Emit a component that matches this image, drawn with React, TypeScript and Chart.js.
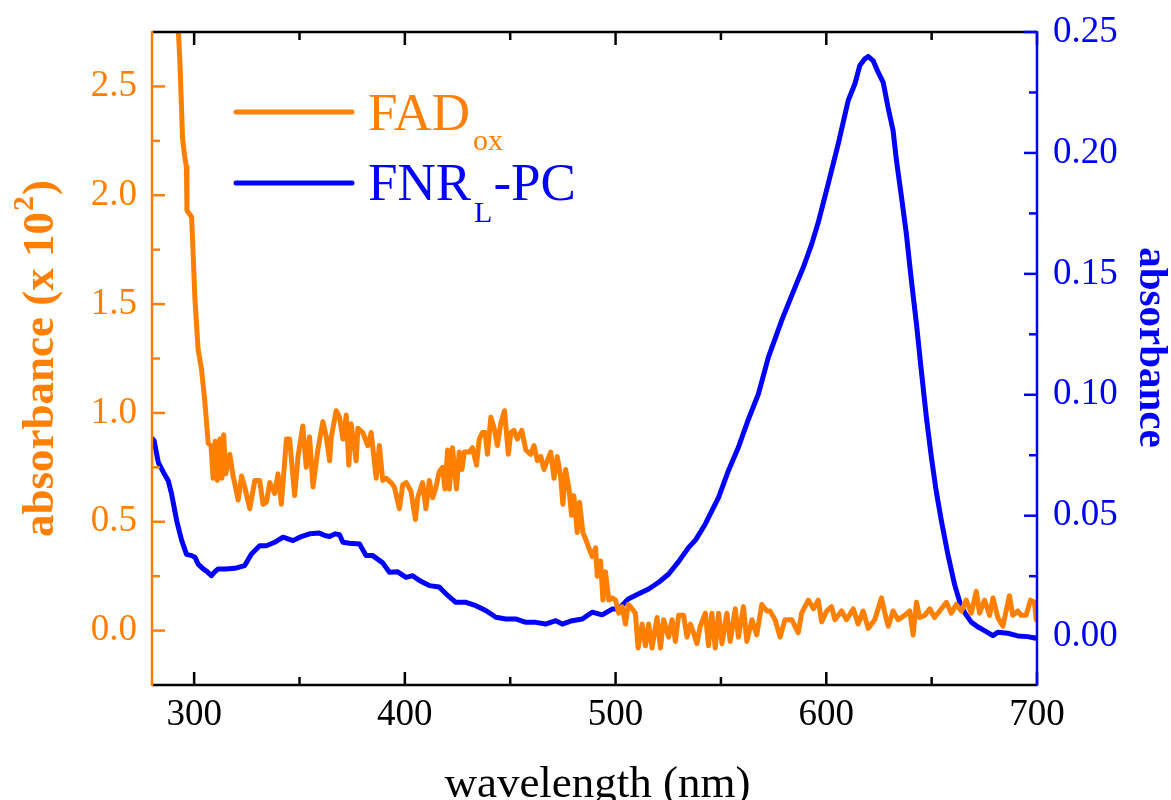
import React, { useEffect, useRef } from 'react';
import { Chart, registerables } from 'chart.js';

Chart.register(...registerables);

const FONT = "'Liberation Serif', 'Times New Roman', Times, serif";
const ORANGE = '#FF8000';
const BLUE = '#0000FF';

// FAD_ox spectrum (left axis, absorbance x 10^2)
const fadWavelength = [
  291, 292.5, 293.3, 294.5, 295.5, 296.3, 296.6, 298.8, 300.4, 301.9, 303.5, 305.0, 306.7, 308.0, 309.0, 310.0,
  311.0, 312.2, 313.2, 314.0, 315.0, 316.9, 318.5, 320.9, 322.5, 324.0, 326.4, 328.8, 331.1, 332.7, 334.3, 335.9,
  338.2, 339.8, 341.4, 343.8, 345.3, 347.7, 349.3, 351.6, 353.2, 354.8, 356.4, 358.7, 361.1, 362.7, 364.3, 365.1,
  367.4, 369.0, 370.6, 372.2, 373.4, 374.5, 376.9, 377.7, 380.0, 382.4, 384.0, 386.4, 387.9, 389.5, 391.1, 393.4,
  395.0, 397.4, 399.0, 400.6, 402.9, 405.0, 406.1, 408.4, 410.0, 411.6, 413.2, 414.8, 416.3, 417.9, 419.0, 420.3,
  421.1, 422.6, 424.5, 425.8, 427.1, 428.2, 430.5, 432.1, 434.0, 435.3, 436.8, 438.1, 439.2, 440.8, 442.4, 443.9,
  445.5, 447.3, 449.1, 450.3, 451.8, 453.4, 455.5, 457.4, 459.7, 461.3, 462.9, 464.5, 466.0, 467.6, 469.2, 470.8,
  472.3, 473.9, 475.0, 476.3, 477.9, 479.1, 480.2, 481.8, 482.9, 484.5, 485.8, 487.3, 488.9, 490.5, 491.3, 492.9,
  494.0, 495.2, 496.8, 498.4, 500.0, 501.5, 503.1, 504.7, 506.0, 507.1, 509.4, 510.7, 512.6, 514.2, 515.7, 517.3,
  519.7, 521.3, 522.8, 525.2, 526.8, 528.4, 529.9, 532.3, 533.9, 535.5, 537.0, 538.6, 540.2, 542.6, 544.1, 545.7,
  547.3, 548.9, 550.5, 552.8, 554.4, 556.8, 558.3, 560.7, 562.3, 564.7, 567.0, 569.4, 571.8, 573.3, 575.7, 578.1,
  580.4, 583.6, 586.7, 588.3, 591.5, 593.9, 596.2, 597.8, 600.2, 602.5, 604.1, 607.3, 609.6, 612.8, 615.1, 617.5,
  619.9, 623.0, 626.2, 627.8, 629.4, 631.7, 634.1, 637.2, 639.6, 641.2, 642.8, 644.3, 646.7, 649.1, 651.4, 653.8,
  657.0, 659.3, 661.7, 664.1, 666.4, 668.8, 671.2, 672.7, 675.1, 677.5, 679.1, 681.4, 683.8, 686.9, 688.5, 690.9,
  692.5, 694.8, 696.9, 698.8, 699.6, 700.0,
];
const fadAbsorbance = [
  3.0, 2.76, 2.6, 2.26, 2.18, 2.13, 1.93, 1.9, 1.52, 1.29, 1.2, 1.06, 0.86, 0.85, 0.7, 0.87,
  0.69, 0.88, 0.7, 0.9, 0.72, 0.81, 0.71, 0.6, 0.71, 0.66, 0.56, 0.69, 0.69, 0.58, 0.59, 0.68,
  0.63, 0.72, 0.58, 0.88, 0.88, 0.62, 0.8, 0.94, 0.75, 0.89, 0.66, 0.83, 0.96, 0.89, 0.78, 0.89,
  1.01, 0.98, 0.88, 0.99, 0.76, 0.95, 0.78, 0.93, 0.91, 0.85, 0.91, 0.7, 0.85, 0.69, 0.7, 0.68,
  0.66, 0.56, 0.67, 0.68, 0.64, 0.51, 0.61, 0.68, 0.56, 0.69, 0.61, 0.66, 0.73, 0.75, 0.65, 0.83,
  0.65, 0.84, 0.65, 0.82, 0.74, 0.82, 0.82, 0.84, 0.76, 0.88, 0.91, 0.91, 0.81, 0.98, 0.93, 0.85,
  0.95, 1.01, 0.81, 0.91, 0.92, 0.88, 0.92, 0.83, 0.81, 0.85, 0.78, 0.8, 0.74, 0.78, 0.82, 0.7,
  0.8, 0.71, 0.58, 0.74, 0.65, 0.53, 0.62, 0.45, 0.59, 0.45, 0.42, 0.38, 0.34, 0.38, 0.25, 0.32,
  0.14, 0.27, 0.14, 0.15, 0.14, 0.08, 0.11, 0.03, 0.12, 0.11, 0.08, -0.08, 0.03, -0.07, 0.03, -0.08,
  0.06, -0.08, 0.05, -0.03, 0.05, -0.05, 0.07, 0.07, -0.03, 0.03, -0.01, -0.06, 0.02, 0.08, -0.07, 0.08,
  -0.08, 0.08, -0.06, 0.08, -0.05, 0.1, -0.03, 0.11, -0.05, 0.05, -0.02, 0.12, 0.09, 0.09, 0.05, -0.03,
  0.05, 0.05, -0.01, 0.08, 0.14, 0.1, 0.14, 0.04, 0.09, 0.11, 0.05, 0.09, 0.05, 0.1, 0.03, 0.09,
  0.01, 0.05, 0.15, 0.08, 0.02, 0.09, 0.05, 0.07, 0.09, -0.02, 0.13, 0.06, 0.07, 0.1, 0.06, 0.09,
  0.13, 0.08, 0.12, 0.09, 0.14, 0.08, 0.18, 0.08, 0.14, 0.07, 0.15, 0.06, 0.02, 0.16, 0.07, 0.09,
  0.07, 0.07, 0.14, 0.13, 0.05, 0.06,
];

// FNR_L-PC spectrum (right axis, absorbance)
const fnrWavelength = [
  280, 281, 283, 285.4, 287.7, 289.3, 291.7, 294, 296.4, 298.8, 300.4, 301.9, 304.3, 306, 308.2, 310,
  311.4, 315.3, 320.1, 324, 327.2, 331.1, 334.3, 338.2, 342.2, 346.9, 350.1, 354.8, 359.5, 362, 364.3, 367,
  369, 370.6, 373.7, 378.5, 381.6, 384.8, 389.5, 392.7, 396.6, 400.6, 403.7, 406.9, 411.6, 416.3, 419.5, 424.2,
  429, 433.7, 438.4, 443.2, 447.9, 452.6, 457.4, 462.1, 466.8, 471.6, 474.7, 479.4, 484.2, 488.9, 493.6, 498.4,
  501.5, 506, 511, 515.7, 520.5, 525.2, 529.9, 534.7, 538, 542.6, 548.9, 553.6, 558.3, 563.1, 567.8, 572.5,
  578.8, 585.2, 589.1, 593.1, 596.2, 600.9, 605.7, 610.4, 613.6, 615.9, 618.3, 619.9, 622.2, 624.6, 627, 629.3,
  631.7, 633.3, 635.7, 638, 640.4, 642.8, 645.1, 647.5, 649.9, 652.2, 654.6, 657.7, 660.9, 663.8, 666, 668.8,
  672, 675.1, 679.1, 681.4, 686.1, 690.9, 695.6, 700,
];
const fnrAbsorbance = [
  0.082, 0.081, 0.072, 0.068, 0.0645, 0.059, 0.048, 0.04, 0.034, 0.0335, 0.0328, 0.03, 0.028, 0.027, 0.0252, 0.027,
  0.028, 0.028, 0.0284, 0.0294, 0.0342, 0.0376, 0.0376, 0.039, 0.0411, 0.0397, 0.0411, 0.0425, 0.0428, 0.0418, 0.0414, 0.0425,
  0.0421, 0.039, 0.0386, 0.0383, 0.0335, 0.0335, 0.0305, 0.0266, 0.0268, 0.0245, 0.0252, 0.0232, 0.0211, 0.0205, 0.0177, 0.0142,
  0.0142, 0.0128, 0.0108, 0.008, 0.0073, 0.0073, 0.0059, 0.0059, 0.0052, 0.0066, 0.0052, 0.0066, 0.0073, 0.0101, 0.009, 0.0114,
  0.0114, 0.0156, 0.0177, 0.0197, 0.0225, 0.0259, 0.031, 0.0369, 0.04, 0.0466, 0.0576, 0.0687, 0.0783, 0.09, 0.1004, 0.1155,
  0.1307, 0.1445, 0.1527, 0.1624, 0.1713, 0.1872, 0.2038, 0.2217, 0.2286, 0.2361, 0.2389, 0.2399, 0.2382, 0.2334, 0.2292, 0.2189,
  0.2093, 0.1969, 0.1817, 0.1665, 0.1472, 0.1293, 0.11, 0.0907, 0.074, 0.06, 0.048, 0.034, 0.0215, 0.013, 0.0095, 0.006,
  0.004, 0.0025, 0.0004, 0.0018, 0.0014, 0.0003, 0.0, -0.0008,
];

const xTicks = [300, 400, 500, 600, 700];
const leftTicks = [0, 0.5, 1.0, 1.5, 2.0, 2.5];
const rightTicks = [0, 0.05, 0.1, 0.15, 0.2, 0.25];

const legendMain = ['FAD', 'FNR'];
const legendSub = ['ox', 'L'];
const legendTail = ['', '-PC'];

const xTitle = 'wavelength (nm)';
const leftTitleMain = 'absorbance (x 10';
const leftTitleSup = '2';
const leftTitleEnd = ')';
const rightTitle = 'absorbance';

function minorsOf(majors: number[], min: number, max: number) {
  const out: number[] = [];
  const step = majors[1] - majors[0];
  const cands = [majors[0] - step / 2];
  for (let i = 0; i < majors.length - 1; i++) cands.push((majors[i] + majors[i + 1]) / 2);
  cands.push(majors[majors.length - 1] + step / 2);
  for (const c of cands) if (c > min + 1e-9 && c < max - 1e-9) out.push(c);
  return out;
}

const framePlugin = {
  id: 'frameAndText',
  afterDraw(chart: any) {
    const { ctx, chartArea } = chart;
    const { left, right, top, bottom } = chartArea;
    const sx = chart.scales.x;
    const sl = chart.scales.yL;
    const sr = chart.scales.yR;
    const MAJ = 13;
    const MIN = 8;
    ctx.save();
    ctx.lineWidth = 2.5;
    ctx.lineCap = 'butt';

    // x ticks (bottom and top), black
    ctx.strokeStyle = '#000';
    const xm = minorsOf(xTicks, sx.min, sx.max);
    const drawX = (v: number, len: number) => {
      const p = sx.getPixelForValue(v);
      ctx.beginPath();
      ctx.moveTo(p, bottom);
      ctx.lineTo(p, bottom - len);
      ctx.moveTo(p, top);
      ctx.lineTo(p, top + len);
      ctx.stroke();
    };
    xTicks.forEach((v) => drawX(v, MAJ));
    xm.forEach((v) => drawX(v, MIN));
    ctx.beginPath();
    ctx.moveTo(left, top);
    ctx.lineTo(right, top);
    ctx.moveTo(left, bottom);
    ctx.lineTo(right, bottom);
    ctx.stroke();

    // left axis, orange
    ctx.strokeStyle = ORANGE;
    const lm = minorsOf(leftTicks, sl.min, sl.max);
    const drawL = (v: number, len: number) => {
      const p = sl.getPixelForValue(v);
      ctx.beginPath();
      ctx.moveTo(left, p);
      ctx.lineTo(left + len, p);
      ctx.stroke();
    };
    leftTicks.forEach((v) => drawL(v, MAJ));
    lm.forEach((v) => drawL(v, MIN));
    ctx.beginPath();
    ctx.moveTo(left, top - 1);
    ctx.lineTo(left, bottom + 1);
    ctx.stroke();

    // right axis, blue
    ctx.strokeStyle = BLUE;
    const rm = minorsOf(rightTicks, sr.min, sr.max);
    const drawR = (v: number, len: number) => {
      const p = sr.getPixelForValue(v);
      ctx.beginPath();
      ctx.moveTo(right, p);
      ctx.lineTo(right - len, p);
      ctx.stroke();
    };
    rightTicks.forEach((v) => drawR(v, MAJ));
    rm.forEach((v) => drawR(v, MIN));
    ctx.beginPath();
    ctx.moveTo(right, top - 1);
    ctx.lineTo(right, bottom + 1);
    ctx.stroke();

    // x title
    ctx.fillStyle = '#000';
    ctx.font = `45px ${FONT}`;
    ctx.textAlign = 'center';
    ctx.textBaseline = 'alphabetic';
    ctx.fillText(xTitle, (left + right) / 2 + 3, 797);

    // left title (rotated), with superscript
    ctx.save();
    ctx.translate(53, (top + bottom) / 2);
    ctx.rotate(-Math.PI / 2);
    ctx.fillStyle = ORANGE;
    ctx.textAlign = 'left';
    const mainFont = `bold 45px ${FONT}`;
    const supFont = `bold 30px ${FONT}`;
    ctx.font = mainFont;
    const w1 = ctx.measureText(leftTitleMain).width;
    const w3 = ctx.measureText(leftTitleEnd).width;
    ctx.font = supFont;
    const w2 = ctx.measureText(leftTitleSup).width;
    const total = w1 + w2 + w3 + 2;
    const x0 = -total / 2;
    ctx.font = mainFont;
    ctx.fillText(leftTitleMain, x0, 0);
    ctx.font = supFont;
    ctx.fillText(leftTitleSup, x0 + w1 + 1, -20);
    ctx.font = mainFont;
    ctx.fillText(leftTitleEnd, x0 + w1 + w2 + 2, 0);
    ctx.restore();

    // right title (rotated)
    ctx.save();
    ctx.translate(1140, 347.5);
    ctx.rotate(Math.PI / 2);
    ctx.fillStyle = BLUE;
    ctx.textAlign = 'center';
    ctx.font = `bold 41px ${FONT}`;
    ctx.fillText(rightTitle, 0, 0);
    ctx.restore();

    // legend
    const lineYs = [112, 183];
    const baseYs = [130, 200];
    const subYs = [150, 222];
    const colors = [ORANGE, BLUE];
    for (let i = 0; i < legendMain.length; i++) {
      ctx.strokeStyle = colors[i];
      ctx.lineWidth = 5;
      ctx.lineCap = 'round';
      ctx.beginPath();
      ctx.moveTo(236, lineYs[i]);
      ctx.lineTo(352, lineYs[i]);
      ctx.stroke();
      ctx.fillStyle = colors[i];
      ctx.textAlign = 'left';
      ctx.font = `53px ${FONT}`;
      ctx.fillText(legendMain[i], 368, baseYs[i]);
      const wm = ctx.measureText(legendMain[i]).width;
      ctx.font = `30px ${FONT}`;
      ctx.fillText(legendSub[i], 368 + wm + 3, subYs[i]);
      const ws = ctx.measureText(legendSub[i]).width;
      if (legendTail[i]) {
        ctx.font = `53px ${FONT}`;
        ctx.fillText(legendTail[i], 368 + wm + 3 + ws + 1, baseYs[i]);
      }
    }
    ctx.restore();
  },
};

export default function App() {
  const ref = useRef<HTMLCanvasElement | null>(null);
  useEffect(() => {
    if (!ref.current) return;
    const fadData = fadWavelength.map((x, i) => ({ x, y: fadAbsorbance[i] }));
    const fnrData = fnrWavelength.map((x, i) => ({ x, y: fnrAbsorbance[i] }));
    const chart = new Chart(ref.current, {
      type: 'line',
      data: {
        datasets: [
          {
            label: 'FAD ox',
            data: fadData,
            yAxisID: 'yL',
            borderColor: ORANGE,
            backgroundColor: ORANGE,
            borderWidth: 5,
            pointRadius: 0,
            tension: 0,
            borderJoinStyle: 'round',
            borderCapStyle: 'round',
          },
          {
            label: 'FNR L-PC',
            data: fnrData,
            yAxisID: 'yR',
            borderColor: BLUE,
            backgroundColor: BLUE,
            borderWidth: 5,
            pointRadius: 0,
            tension: 0,
            borderJoinStyle: 'round',
            borderCapStyle: 'round',
          },
        ],
      },
      options: {
        animation: false,
        responsive: false,
        events: [],
        layout: { padding: { top: 32, left: 0, right: 0, bottom: 0 } },
        plugins: { legend: { display: false }, tooltip: { enabled: false }, title: { display: false } },
        scales: {
          x: {
            type: 'linear',
            position: 'bottom',
            min: 280,
            max: 700,
            grid: { display: false, drawTicks: false },
            border: { display: false },
            ticks: {
              color: '#000',
              font: { family: FONT, size: 37 },
              padding: 8,
              maxRotation: 0,
              autoSkip: false,
              callback: (v: any) => String(v),
            },
            afterBuildTicks: (s: any) => {
              s.ticks = xTicks.map((v) => ({ value: v }));
            },
            afterFit: (s: any) => {
              s.height = 115;
              s.paddingLeft = 0;
              s.paddingRight = 0;
            },
          },
          yL: {
            type: 'linear',
            position: 'left',
            min: -0.25,
            max: 2.75,
            grid: { display: false, drawTicks: false },
            border: { display: false },
            ticks: {
              color: ORANGE,
              font: { family: FONT, size: 37 },
              padding: 15,
              autoSkip: false,
              callback: (v: any) => Number(v).toFixed(1),
            },
            afterBuildTicks: (s: any) => {
              s.ticks = leftTicks.map((v) => ({ value: v }));
            },
            afterFit: (s: any) => {
              s.width = 152;
              s.paddingTop = 0;
              s.paddingBottom = 0;
            },
          },
          yR: {
            type: 'linear',
            position: 'right',
            min: -0.02,
            max: 0.25,
            grid: { display: false, drawTicks: false },
            border: { display: false },
            ticks: {
              color: BLUE,
              font: { family: FONT, size: 37 },
              padding: 16,
              autoSkip: false,
              callback: (v: any) => Number(v).toFixed(2),
            },
            afterBuildTicks: (s: any) => {
              s.ticks = rightTicks.map((v) => ({ value: v }));
            },
            afterFit: (s: any) => {
              s.width = 134;
              s.paddingTop = 0;
              s.paddingBottom = 0;
            },
          },
        },
      },
      plugins: [framePlugin],
    });
    return () => chart.destroy();
  }, []);
  return (
    <div style={{ position: 'absolute', left: 0, top: 0, width: 1171, height: 800, background: '#fff' }}>
      <canvas ref={ref} width={1171} height={800} style={{ display: 'block' }} />
    </div>
  );
}
